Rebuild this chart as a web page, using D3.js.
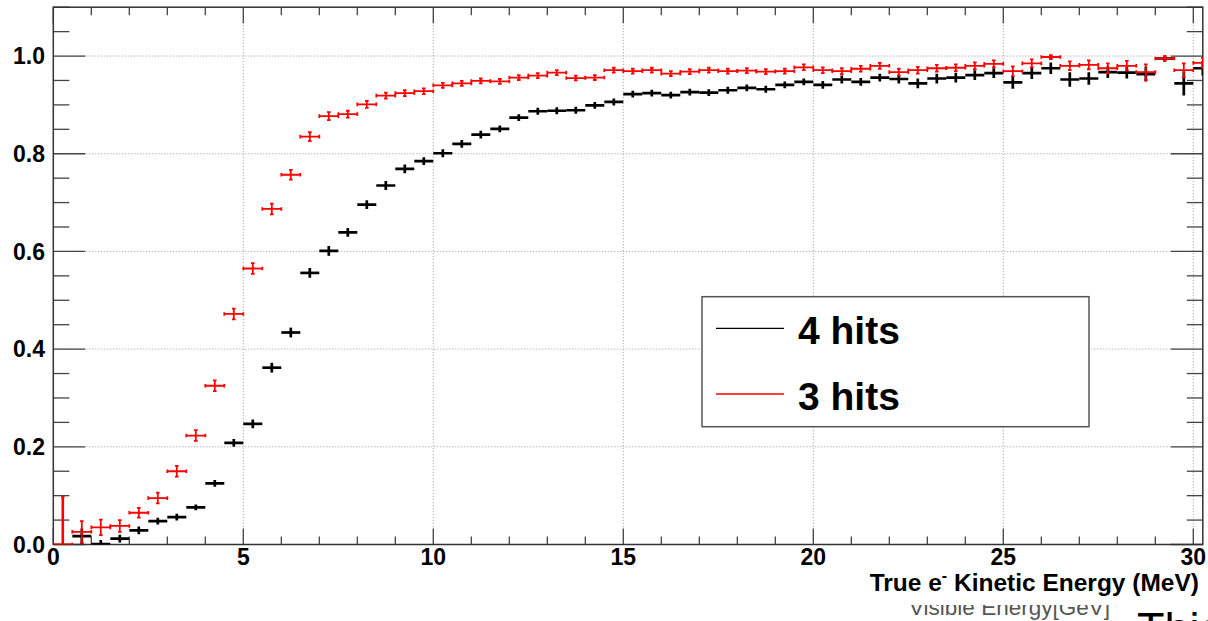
<!DOCTYPE html>
<html>
<head>
<meta charset="utf-8">
<script src="https://cdn.jsdelivr.net/npm/d3@7"></script>
<style>
  html, body { margin: 0; padding: 0; background: #fff; }
  svg { display: block; }
  text { font-family: "Liberation Sans", Arial, Helvetica, sans-serif; }
</style>
</head>
<body>
<svg id="chart" width="1208" height="621"></svg>
<script>
// ---- data ----
const binWidth = 0.5;
const binCenters = d3.range(0.25, 30.5, 0.5);   // 61 bins, 0–30.5 MeV

const hits3 = [0, 0.026, 0.035, 0.038, 0.065, 0.095, 0.150, 0.223, 0.325, 0.472,
  0.565, 0.687, 0.757, 0.835, 0.877, 0.881, 0.901, 0.919, 0.924, 0.928,
  0.940, 0.944, 0.949, 0.948, 0.956, 0.960, 0.966, 0.955, 0.956, 0.971,
  0.969, 0.971, 0.964, 0.968, 0.971, 0.969, 0.970, 0.968, 0.969, 0.977,
  0.971, 0.969, 0.974, 0.980, 0.967, 0.971, 0.975, 0.976, 0.980, 0.984,
  0.969, 0.985, 0.998, 0.980, 0.982, 0.975, 0.980, 0.967, 0.995, 0.971, 0.986];
const hits3Err = [0.098, 0.022, 0.016, 0.012, 0.010, 0.011, 0.011, 0.011, 0.011, 0.011,
  0.011, 0.011, 0.010, 0.009, 0.008, 0.007, 0.007, 0.006, 0.006, 0.006,
  0.005, 0.005, 0.005, 0.005, 0.005, 0.005, 0.005, 0.005, 0.005, 0.005,
  0.005, 0.005, 0.005, 0.005, 0.005, 0.005, 0.005, 0.005, 0.005, 0.006,
  0.006, 0.006, 0.006, 0.006, 0.007, 0.007, 0.007, 0.007, 0.007, 0.007,
  0.010, 0.008, 0.004, 0.009, 0.009, 0.010, 0.010, 0.016, 0.005, 0.014, 0.010];

const hits4 = [null, 0.017, 0.001, 0.012, 0.029, 0.048, 0.056, 0.076, 0.125, 0.208,
  0.247, 0.362, 0.434, 0.556, 0.601, 0.639, 0.696, 0.735, 0.769, 0.785,
  0.801, 0.820, 0.839, 0.851, 0.874, 0.887, 0.888, 0.889, 0.899, 0.906,
  0.922, 0.924, 0.920, 0.926, 0.925, 0.930, 0.935, 0.932, 0.941, 0.947,
  0.941, 0.952, 0.947, 0.956, 0.953, 0.944, 0.954, 0.956, 0.961, 0.965,
  0.946, 0.965, 0.975, 0.952, 0.954, 0.967, 0.966, 0.963, 0.995, 0.944, 0.975];
const hits4Err = [0, 0.016, 0.008, 0.008, 0.008, 0.007, 0.007, 0.006, 0.007, 0.008,
  0.009, 0.010, 0.010, 0.010, 0.010, 0.009, 0.009, 0.009, 0.009, 0.008,
  0.008, 0.008, 0.008, 0.007, 0.007, 0.007, 0.007, 0.007, 0.007, 0.007,
  0.007, 0.007, 0.007, 0.007, 0.007, 0.007, 0.007, 0.007, 0.007, 0.007,
  0.008, 0.008, 0.008, 0.008, 0.009, 0.010, 0.010, 0.010, 0.010, 0.010,
  0.013, 0.012, 0.012, 0.015, 0.013, 0.012, 0.012, 0.015, 0.006, 0.025, 0.015];

const xTickValues = [0, 5, 10, 15, 20, 25, 30];
const yTickValues = [0.0, 0.2, 0.4, 0.6, 0.8, 1.0];
const seriesNames = ["4 hits", "3 hits"];
const seriesColors = ["#000000", "#ff0000"];
const xTitle = ["True e", "-", " Kinetic Energy (MeV)"];
const strayTexts = ["Visible Energy[GeV]", "This"];

// ---- layout ----
const svg = d3.select("#chart");
const L = 53.3, R = 1202.8, T = 7.2, B = 544.5;
const x = d3.scaleLinear().domain([0, 30.25]).range([L, R]);
const y = d3.scaleLinear().domain([0, 1.1]).range([B, T]);

svg.append("rect").attr("width", 1208).attr("height", 621).attr("fill", "#fff");

// stray text from an underlying image (partly hidden, as in the reference)
svg.append("text").attr("x", 909).attr("y", 615).attr("font-size", 22.5)
  .attr("fill", "#555").text(strayTexts[0]);
svg.append("text").attr("x", 1137).attr("y", 644).attr("font-size", 45)
  .attr("fill", "#000").text(strayTexts[1]);
svg.append("rect").attr("x", 880).attr("y", 596).attr("width", 260).attr("height", 9).attr("fill", "#fff");

svg.append("defs").append("clipPath").attr("id", "plotclip")
  .append("rect").attr("x", L).attr("y", T).attr("width", R - L).attr("height", B - T);

// grid
const grid = svg.append("g").attr("stroke", "#9a9a9a").attr("stroke-width", 1)
  .attr("stroke-dasharray", "1,2");
xTickValues.filter(v => v > 0).forEach(v => {
  grid.append("line").attr("x1", x(v)).attr("x2", x(v)).attr("y1", T).attr("y2", B);
});
yTickValues.filter(v => v > 0).forEach(v => {
  grid.append("line").attr("x1", L).attr("x2", R).attr("y1", y(v)).attr("y2", y(v));
});

// ticks
const ticks = svg.append("g").attr("stroke", "#444").attr("stroke-width", 1.3);
d3.range(0, 31, 1).forEach(v => {
  const len = (v % 5 === 0) ? 16 : 8;
  ticks.append("line").attr("x1", x(v)).attr("x2", x(v)).attr("y1", B).attr("y2", B - len);
  ticks.append("line").attr("x1", x(v)).attr("x2", x(v)).attr("y1", T).attr("y2", T + len);
});
d3.range(0, 1.1001, 0.05).forEach(v => {
  const major = Math.abs(v / 0.2 - Math.round(v / 0.2)) < 1e-6;
  const len = major ? 32 : 16;
  ticks.append("line").attr("x1", L).attr("x2", L + len).attr("y1", y(v)).attr("y2", y(v));
  ticks.append("line").attr("x1", R).attr("x2", R - len).attr("y1", y(v)).attr("y2", y(v));
});

// frame
svg.append("rect").attr("x", L).attr("y", T).attr("width", R - L).attr("height", B - T)
  .attr("fill", "none").attr("stroke", "#333").attr("stroke-width", 1.5);

// tick labels
svg.append("g").selectAll("text").data(xTickValues).join("text")
  .attr("x", d => x(d)).attr("y", 565).attr("text-anchor", "middle")
  .attr("font-size", 23).attr("font-weight", "bold").text(d => d3.format("d")(d));
svg.append("g").selectAll("text").data(yTickValues).join("text")
  .attr("x", 45).attr("y", d => y(d) + 8.3).attr("text-anchor", "end")
  .attr("font-size", 23).attr("font-weight", "bold").text(d => d3.format(".1f")(d));

// x title
const xt = svg.append("text").attr("x", 1199).attr("y", 591).attr("text-anchor", "end")
  .attr("font-size", 24.5).attr("font-weight", "bold");
xt.append("tspan").text(xTitle[0]);
xt.append("tspan").attr("dy", -10).attr("font-size", 16).text(xTitle[1]);
xt.append("tspan").attr("dy", 10).text(xTitle[2]);

// data
const plot = svg.append("g").attr("clip-path", "url(#plotclip)");
function drawSeries(vals, errs, color, width, caps) {
  const g = plot.append("g").attr("stroke", color).attr("stroke-width", width).attr("fill", "none");
  binCenters.forEach((c, i) => {
    const v = vals[i];
    if (v === null || v === undefined) return;
    const e = errs[i];
    const x0 = x(c - binWidth / 2), x1 = x(c + binWidth / 2), xc = x(c);
    const yv = y(v), yHi = y(v + e), yLo = y(Math.max(v - e, -0.05));
    g.append("line").attr("x1", x0).attr("x2", x1).attr("y1", yv).attr("y2", yv);
    g.append("line").attr("x1", xc).attr("x2", xc).attr("y1", yHi).attr("y2", yLo)
      .attr("stroke-width", i === 0 ? width + 0.8 : width);
    if (caps) {
      const cw = 1.8;
      g.append("line").attr("x1", xc - cw).attr("x2", xc + cw).attr("y1", yHi).attr("y2", yHi);
      g.append("line").attr("x1", xc - cw).attr("x2", xc + cw).attr("y1", yLo).attr("y2", yLo);
      g.append("line").attr("x1", x0).attr("x2", x0).attr("y1", yv - cw).attr("y2", yv + cw);
      g.append("line").attr("x1", x1).attr("x2", x1).attr("y1", yv - cw).attr("y2", yv + cw);
    }
  });
}
drawSeries(hits4, hits4Err, seriesColors[0], 2.7, false);
drawSeries(hits3, hits3Err, seriesColors[1], 1.8, true);

// legend
const lg = svg.append("g");
lg.append("rect").attr("x", 702).attr("y", 296.7).attr("width", 387).attr("height", 130)
  .attr("fill", "#fff").attr("stroke", "#555").attr("stroke-width", 1.5);
const legendY = [328.3, 394];
seriesNames.forEach((name, i) => {
  lg.append("line").attr("x1", 716).attr("x2", 784).attr("y1", legendY[i]).attr("y2", legendY[i])
    .attr("stroke", seriesColors[i]).attr("stroke-width", 1.3);
  lg.append("text").attr("x", 798).attr("y", legendY[i] + 15.5)
    .attr("font-size", 39).attr("font-weight", "bold").attr("fill", "#000").text(name);
});
</script>
</body>
</html>
